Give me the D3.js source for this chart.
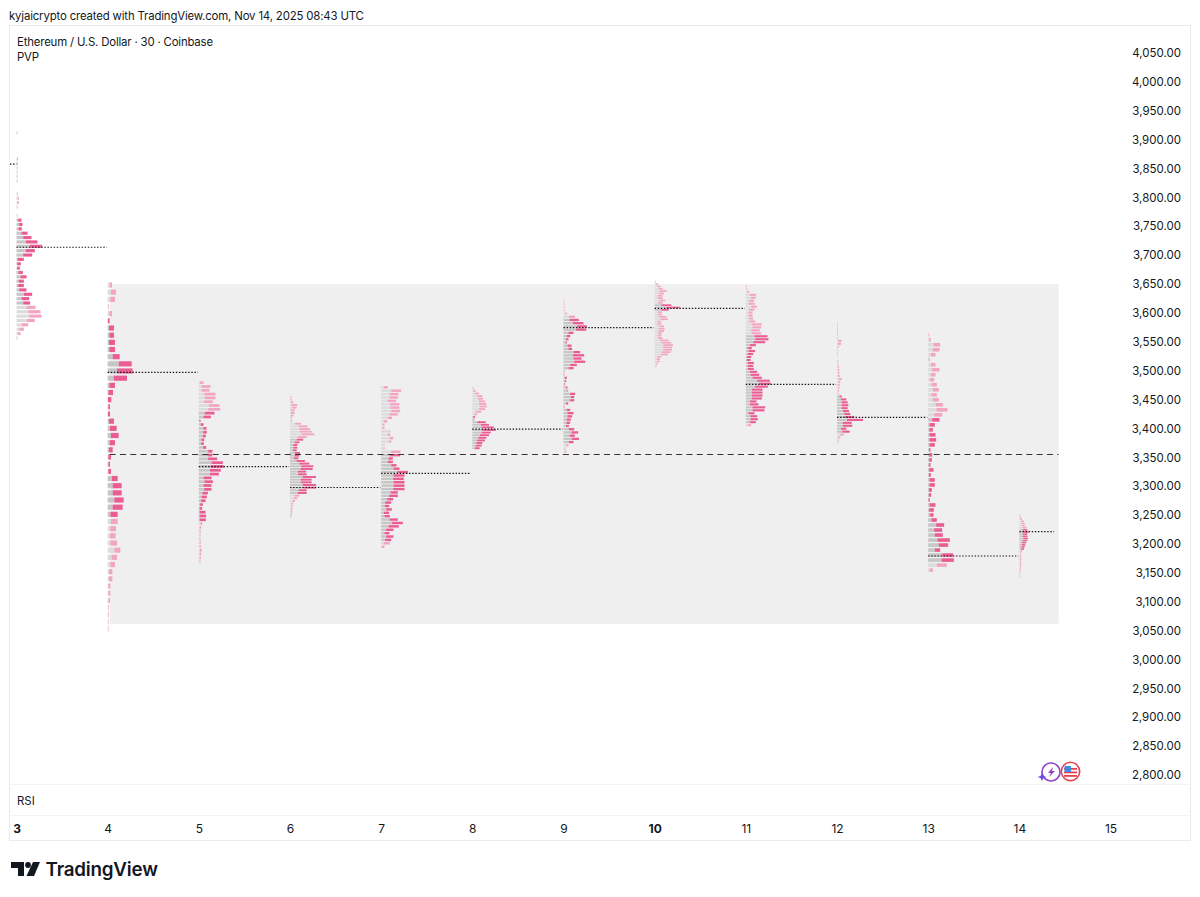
<!DOCTYPE html>
<html><head><meta charset="utf-8">
<script src="https://cdn.jsdelivr.net/npm/d3@7"></script>
<style>html,body{margin:0;padding:0;background:#fff}svg{display:block}text{font-family:Inter,"Noto Sans",sans-serif;fill:#131722}</style>
</head><body><svg id="c" width="1200" height="897"></svg>
<script>
const headerText = "kyjaicrypto created with TradingView.com, Nov 14, 2025 08:43 UTC";
const legendLines = ["Ethereum / U.S. Dollar · 30 · Coinbase", "PVP"];
const priceTicks = d3.range(2800, 4051, 50);
const dayTicks = [3,4,5,6,7,8,9,10,11,12,13,14,15];
const boldDays = [3,10];

const day3Grey=[1,0,0,0,0,0,1,1,1,1,1,1,0,0,2,3,3,1,0,1,5,8,6,15,20,28,40,28,20,3,2,2,6,12,7,5,8,22,15,20,30,35,38,30,15,8,5,1];
const day3Total=[3,0,0,0,0,0,4,4,3,3,3,3,0,0,4,7,7,3,0,3,15,18,16,33,45,63,77,55,47,22,13,10,19,30,22,22,30,47,38,41,57,72,75,55,35,22,12,3];
const day4Grey=[6,10,8,1,5,1,4,5,4,5,15,33,28,18,5,2,1,2,1,4,7,10,6,4,2,2,2,13,15,15,20,15,8,10,8,6,8,20,12,8,4,4,2,2,2,1,1,1,1];
const day4Total=[13,25,22,3,13,6,19,19,22,22,36,72,75,58,22,16,11,7,7,19,27,33,22,15,10,7,10,30,42,42,48,45,30,30,25,24,28,38,28,22,14,14,8,8,7,3,3,2,2];
const day5Grey=[3,8,8,16,18,15,30,28,18,14,2,6,14,13,12,8,7,13,28,26,28,38,35,33,33,14,17,14,16,11,8,7,4,2,2,2,2,5,2,2,2,2,2,2,3,2,2,2];
const day5Total=[14,35,32,50,50,42,62,64,47,36,5,14,23,24,21,16,15,22,41,40,55,72,75,66,60,38,42,38,38,27,24,20,12,10,20,22,21,10,7,6,5,5,6,6,9,7,6,5];
const day6Grey=[1,1,2,5,6,3,3,3,2,3,15,25,28,30,34,24,20,14,10,10,9,15,14,12,20,28,34,32,24,24,38,32,32,38,40,26,24,14,11,8,5,4,3,3,3,2];
const day6Total=[4,5,10,22,20,14,14,10,5,6,33,52,60,65,73,50,40,28,22,22,20,30,28,25,45,58,70,68,48,50,78,65,65,78,78,50,50,28,22,15,10,8,7,7,6,4];
const day7Grey=[8,30,25,25,20,27,27,30,25,20,8,5,4,25,20,25,24,8,7,30,25,22,20,30,37,48,37,36,37,37,36,28,24,18,12,11,15,8,10,25,32,22,15,10,15,12,8,2];
const day7Total=[20,60,52,50,45,55,55,57,50,33,18,10,10,27,27,36,30,10,10,58,57,35,35,46,55,80,70,68,70,70,70,50,50,36,30,24,32,24,26,50,65,53,37,25,37,30,26,10];
const day8Grey=[1,3,8,15,17,20,20,22,20,10,6,3,4,15,25,28,30,28,22,18,14,12,10,8];
const day8Total=[4,10,20,30,32,38,42,43,38,27,14,8,6,40,50,65,70,55,50,42,38,30,28,22];
const day9Grey=[2,2,2,2,6,16,18,28,40,38,15,10,8,6,12,15,30,28,30,32,20,15,1,1,4,4,3,8,12,20,22,20,8,1,10,12,12,10,9,8,16,24,18,25,16,8,3,4];
const day9Total=[3,3,3,3,10,34,46,60,70,68,30,20,15,10,24,26,50,62,54,65,40,30,2,2,10,8,5,12,14,35,32,32,14,2,20,30,26,22,20,16,32,44,34,46,30,15,6,8];
const day10Grey=[2,5,8,12,15,12,10,10,14,10,20,35,20,10,8,14,18,8,8,15,12,12,10,10,10,16,20,26,24,26,22,18,8,6,6,4,2];
const day10Total=[4,10,18,24,36,28,24,24,32,24,50,75,42,22,22,36,40,20,20,28,30,28,22,20,24,42,50,55,52,52,48,40,20,15,15,8,5];
const day11Grey=[1,2,5,12,16,10,8,16,10,8,8,10,10,18,20,15,18,26,28,22,12,5,8,6,4,3,6,6,6,12,14,20,34,40,28,18,18,18,18,12,12,20,20,8,14,14,12,6];
const day11Total=[3,4,10,30,30,25,26,33,26,20,20,22,28,48,46,42,46,65,68,58,30,18,28,22,16,14,24,22,24,34,40,48,72,75,66,50,50,50,48,32,38,58,56,26,34,36,30,16];
const day12Grey=[1,1,1,1,1,1,4,3,2,1,1,1,0,2,2,3,3,3,3,6,5,3,4,3,3,7,12,14,14,14,18,22,24,30,17,18,12,16,10,4,2,1];
const day12Total=[2,2,3,3,3,3,14,12,5,2,2,1,0,4,4,6,7,7,8,14,10,8,7,6,5,14,28,32,34,32,36,40,52,78,44,46,28,38,20,10,5,2];
const day13Grey=[1,3,16,14,8,2,8,12,8,6,10,14,10,14,22,25,18,12,4,4,4,4,4,3,3,3,2,3,2,4,4,2,2,1,4,3,6,10,24,18,20,28,32,20,42,40,26,4];
const day13Total=[3,8,36,34,22,5,22,34,22,18,26,32,26,32,44,58,42,34,20,14,22,24,20,7,12,11,7,16,8,20,20,11,9,5,22,17,16,26,48,42,44,65,60,36,75,77,56,14];
const day14Grey=[1,2,3,5,7,8,10,10,12,11,10,12,10,8,8,6,5,3,3,3,2,2,2,2,2,2,1,1,1,1];
const day14Total=[3,5,8,14,16,18,22,24,28,24,24,26,24,20,18,16,14,8,6,6,6,6,6,6,5,5,4,3,2,2];

const profileDays=[3,4,5,6,7,8,9,10,11,12,13,14];
const priceTop=[3910,3646.6,3477.5,3452.7,3469.5,3467.8,3619.4,3652.3,3645,3580.3,3560.6,3248.4];
const priceBottom=[3555,3051,3167.6,3245,3193.5,3364,3358,3506,3404,3372.5,3153,3141.6];
const valueHigh=[3760,3586,3425,3383,3357,3421,3591,3612,3558,3454,3421,3226];
const valueLow=[3608,3248,3240,3283,3200,3364,3370,3600,3409,3390,3162,3186];
const pocPrice=[3712,3495.5,3332,3296,3320.6,3397,3572.7,3606,3474.7,3417.5,3177.4,3219.5];
const pocEndDay=[3.99,4.99,5.99,6.99,7.98,8.99,9.99,10.99,11.99,12.99,13.99,14.38];
const greys=[day3Grey,day4Grey,day5Grey,day6Grey,day7Grey,day8Grey,day9Grey,day10Grey,day11Grey,day12Grey,day13Grey,day14Grey];
const totals=[day3Total,day4Total,day5Total,day6Total,day7Total,day8Total,day9Total,day10Total,day11Total,day12Total,day13Total,day14Total];
const priorPoc=3856;
const levelPrice=3354;
const zoneHigh=3648, zoneLow=3060;

const svg=d3.select("#c");
const y=d3.scaleLinear().domain([4050,2800]).range([52,774]);
const x=d3.scaleLinear().domain([3,15]).range([16.5,1110.5]);
const vol=d3.scaleLinear().domain([0,3]).range([0,1]);

const frame="#e8eaef";
svg.append("rect").attr("x",9.5).attr("y",25.5).attr("width",1181).attr("height",815).attr("fill","#fff").attr("stroke",frame);
[784.5,815.5].forEach(v=>svg.append("line").attr("x1",10).attr("x2",1190).attr("y1",v).attr("y2",v).attr("stroke","#f0f3fa"));

svg.append("rect").attr("x",x(4)+2).attr("width",x(14.43)-x(4)-2)
  .attr("y",y(zoneHigh)).attr("height",y(zoneLow)-y(zoneHigh)).attr("fill","#efefef");

const plot=svg.append("g");
profileDays.forEach((d,i)=>{
  const n=greys[i].length;
  const idx=d3.scaleLinear().domain([0,n-1]).range([priceTop[i],priceBottom[i]]);
  const h=Math.abs(y(idx(1))-y(idx(0)));
  const bar=Math.max(1,h*0.72);
  const rows=d3.range(n).map(k=>({p:idx(k),g:greys[i][k],t:totals[i][k],va:idx(k)<=valueHigh[i]&&idx(k)>=valueLow[i]}));
  const g=plot.append("g");
  g.selectAll(".g").data(rows.filter(r=>r.t>0)).join("rect")
    .attr("x",x(d)).attr("y",r=>y(r.p)-bar/2).attr("height",bar)
    .attr("width",r=>vol(r.g)).attr("fill",r=>r.va?"#c6c6c6":"#dcdcdc");
  g.selectAll(".p").data(rows.filter(r=>r.t>0)).join("rect")
    .attr("x",r=>x(d)+vol(r.g)).attr("y",r=>y(r.p)-bar/2).attr("height",bar)
    .attr("width",r=>Math.max(0.5,vol(r.t-r.g))).attr("fill",r=>r.va?"#ea5c92":"#f2a5c3");
});
const dotted="1.4 1.7";
profileDays.forEach((d,i)=>{
  svg.append("line").attr("x1",x(d)).attr("x2",x(pocEndDay[i])).attr("y1",y(pocPrice[i])).attr("y2",y(pocPrice[i]))
    .attr("stroke","#111").attr("stroke-width",1.2).attr("stroke-dasharray",dotted);
});
svg.append("line").attr("x1",10).attr("x2",x(3)).attr("y1",y(priorPoc)).attr("y2",y(priorPoc))
  .attr("stroke","#111").attr("stroke-width",1.2).attr("stroke-dasharray",dotted);
svg.append("line").attr("x1",x(4)+2).attr("x2",x(14.43)).attr("y1",y(levelPrice)+0.5).attr("y2",y(levelPrice)+0.5)
  .attr("stroke","#333").attr("stroke-width",1).attr("stroke-dasharray","6 4.3");

const yAxis=d3.axisRight(y).tickValues(priceTicks).tickSize(0).tickPadding(0).tickFormat(d3.format(",.2f"));
const ya=svg.append("g").attr("transform","translate(1181,1)").call(yAxis);
ya.select(".domain").remove();
ya.selectAll("text").attr("text-anchor","end").attr("font-size",11.5).attr("fill","#2a2e39").style("font-family","Inter");

const xAxis=d3.axisBottom(x).tickValues(dayTicks).tickSize(0).tickPadding(0).tickFormat(d3.format("d"));
const xa=svg.append("g").attr("transform","translate(0,824.5)").call(xAxis);
xa.select(".domain").remove();
xa.selectAll("text").attr("font-size",12).attr("fill","#2a2e39").style("font-family","Inter")
  .attr("font-weight",d=>boldDays.includes(d)?700:400);

svg.append("text").attr("x",9).attr("y",20).attr("font-size",11.4).attr("letter-spacing",-0.16).text(headerText);
legendLines.forEach((t,i)=>svg.append("text").attr("x",17).attr("y",46+i*15).attr("font-size",11.4).attr("letter-spacing",-0.18).text(t));
svg.append("text").attr("x",17).attr("y",805).attr("font-size",11.4).text("RSI");

// logo
const logo=svg.append("g").attr("transform","translate(11,862)").attr("fill","#131722");
logo.append("path").attr("d","M0 0H13V14H7V6H0Z");
logo.append("circle").attr("cx",17).attr("cy",3).attr("r",2.9);
logo.append("path").attr("d","M22 0H29L23 14H15.5Z");
svg.append("text").attr("x",45.5).attr("y",875.5).attr("font-size",18.8).attr("font-weight",600).attr("letter-spacing",-0.2).text("TradingView");

// badges
const b=svg.append("g");
b.append("circle").attr("cx",1051).attr("cy",772).attr("r",9).attr("fill","#fff").attr("stroke","#8e44c8").attr("stroke-width",1.6);
b.append("path").attr("d","M1053 767L1048 773H1051L1049 777L1055 771H1052Z").attr("fill","#8e44c8");
b.append("path").attr("d","M1042 773L1043.5 776L1046.5 777L1043.5 778L1042 781L1040.5 778L1037.5 777L1040.5 776Z").attr("fill","#6a4ce0");
b.append("circle").attr("cx",1070.5).attr("cy",771.5).attr("r",9.2).attr("fill","#fff").attr("stroke","#e8404f").attr("stroke-width",1.6);
[768,771.5,775].forEach(v=>b.append("rect").attr("x",1064).attr("y",v).attr("width",13).attr("height",1.8).attr("fill","#e8404f"));
b.append("rect").attr("x",1064.5).attr("y",766).attr("width",6.5).attr("height",6).attr("fill","#3f8ce0");
</script></body></html>
